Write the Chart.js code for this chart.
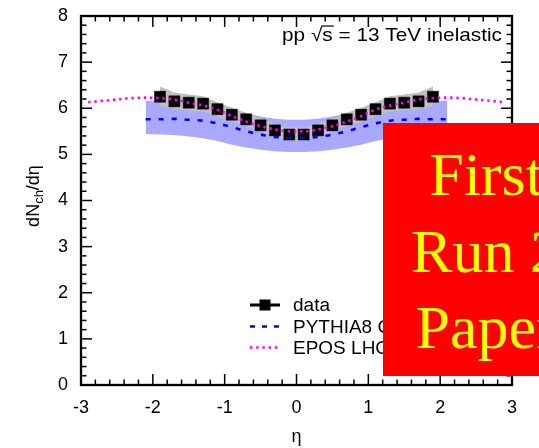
<!DOCTYPE html>
<html><head><meta charset="utf-8">
<script src="https://cdn.jsdelivr.net/npm/chart.js@4/dist/chart.umd.min.js"></script>
<style>html,body{margin:0;padding:0;background:#fff;}canvas{display:block;}</style>
</head><body>
<canvas id="c" width="539" height="448"></canvas>
<script>
// ---- data ----
const dataEta = [-1.9,-1.7,-1.5,-1.3,-1.1,-0.9,-0.7,-0.5,-0.3,-0.1,0.1,0.3,0.5,0.7,0.9,1.1,1.3,1.5,1.7,1.9];
const dataVals = [6.25,6.15,6.12,6.10,5.98,5.86,5.76,5.63,5.52,5.43,5.43,5.52,5.63,5.76,5.86,5.98,6.10,6.12,6.15,6.25];
const dataSysHi = [6.47,6.34,6.30,6.26,6.13,6.01,5.90,5.77,5.66,5.58,5.58,5.66,5.77,5.90,6.01,6.13,6.26,6.30,6.34,6.47];
const dataSysLo = [6.05,5.98,5.95,5.93,5.82,5.71,5.61,5.49,5.38,5.29,5.29,5.38,5.49,5.61,5.71,5.82,5.93,5.95,5.98,6.05];

const pythiaEta = [-2.1,-1.9,-1.7,-1.5,-1.3,-1.1,-0.9,-0.7,-0.5,-0.3,-0.1,0.1,0.3,0.5,0.7,0.9,1.1,1.3,1.5,1.7,1.9,2.1];
const pythiaVals = [5.76,5.76,5.77,5.75,5.73,5.67,5.59,5.50,5.43,5.38,5.355,5.355,5.38,5.43,5.50,5.59,5.67,5.73,5.75,5.77,5.76,5.76];
const pythiaHi = [6.16,6.16,6.16,6.14,6.12,6.06,5.98,5.89,5.82,5.77,5.75,5.75,5.77,5.82,5.89,5.98,6.06,6.12,6.14,6.16,6.16,6.16];
const pythiaLo = [5.44,5.43,5.42,5.39,5.35,5.29,5.21,5.15,5.10,5.07,5.05,5.05,5.07,5.10,5.15,5.21,5.29,5.35,5.39,5.42,5.43,5.44];

const eposEta = [-2.9,-2.7,-2.5,-2.3,-2.1,-1.9,-1.7,-1.5,-1.3,-1.1,-0.9,-0.7,-0.5,-0.3,-0.1,0.1,0.3,0.5,0.7,0.9,1.1,1.3,1.5,1.7,1.9,2.1,2.3,2.5,2.7,2.9];
const eposVals = [6.13,6.16,6.19,6.22,6.23,6.22,6.19,6.12,6.06,5.97,5.83,5.71,5.61,5.54,5.50,5.50,5.54,5.61,5.71,5.83,5.97,6.06,6.12,6.19,6.22,6.23,6.22,6.19,6.16,6.13];

const xRange = [-3, 3];
const yRange = [0, 8];
const legendLabels = ['data', 'PYTHIA8 CUETP8M1', 'EPOS LHC'];
const xTitle = '\u03b7';
const yTitleParts = ['dN', 'ch', '/d\u03b7'];
const topLabel = ['pp ', '\u221a', 's', ' = 13 TeV inelastic'];
const stampLines = ['First', 'Run 2', 'Paper'];

const pts = (xs, ys) => xs.map((x, i) => ({x, y: ys[i]}));
const SANS = '"Liberation Sans", Arial, Helvetica, sans-serif';
const SERIF = '"Liberation Serif", "Times New Roman", serif';
const COL_DATA = '#000000', COL_PY = '#0000ff', COL_EPOS = '#ff00ff';
const NONE = 'rgba(0,0,0,0)';

const decor = {
  id: 'decor',
  afterDraw(chart) {
    const {ctx, chartArea: a, scales: {x, y}} = chart;
    ctx.save();
    // ticks (inward, all four sides)
    ctx.strokeStyle = '#000'; ctx.lineWidth = 1.5;
    const seg = (x1, y1, x2, y2) => { ctx.beginPath(); ctx.moveTo(x1, y1); ctx.lineTo(x2, y2); ctx.stroke(); };
    for (let i = xRange[0] * 5; i <= xRange[1] * 5; i++) {
      const px = x.getPixelForValue(i / 5), L = (i % 5 === 0) ? 11 : 5.5;
      seg(px, a.bottom, px, a.bottom - L); seg(px, a.top, px, a.top + L);
    }
    for (let i = yRange[0] * 5; i <= yRange[1] * 5; i++) {
      const py = y.getPixelForValue(i / 5), L = (i % 5 === 0) ? 11 : 5.5;
      seg(a.left, py, a.left + L, py); seg(a.right, py, a.right - L, py);
    }
    ctx.lineWidth = 2.3;
    ctx.strokeRect(a.left, a.top, a.right - a.left, a.bottom - a.top);

    // axis titles
    ctx.fillStyle = '#000';
    ctx.textBaseline = 'alphabetic';
    ctx.textAlign = 'left';
    ctx.font = '18px ' + SANS;
    const xt = ctx.measureText(xTitle).width;
    ctx.fillText(xTitle, (a.left + a.right) / 2 - xt / 2, 442);

    ctx.save();
    ctx.translate(39, 196);
    ctx.rotate(-Math.PI / 2);
    ctx.font = '18px ' + SANS; const w0 = ctx.measureText(yTitleParts[0]).width;
    const w2 = ctx.measureText(yTitleParts[2]).width;
    ctx.font = '13px ' + SANS; const w1 = ctx.measureText(yTitleParts[1]).width;
    let cx = -(w0 + w1 + w2) / 2;
    ctx.font = '18px ' + SANS; ctx.fillText(yTitleParts[0], cx, 0); cx += w0;
    ctx.font = '13px ' + SANS; ctx.fillText(yTitleParts[1], cx, 4); cx += w1;
    ctx.font = '18px ' + SANS; ctx.fillText(yTitleParts[2], cx, 0);
    ctx.restore();

    // top-right label
    ctx.font = '19px ' + SANS;
    const ws = topLabel.map(t => ctx.measureText(t).width);
    const totalW = ws.reduce((p, c) => p + c, 0);
    const target = 220, startX = 282;
    const sc = target / totalW;
    ctx.save();
    ctx.translate(startX, 41); ctx.scale(sc, 1);
    let ox = 0;
    topLabel.forEach((t, i) => {
      ctx.fillText(t, ox, 0);
      if (i === 2) { ctx.lineWidth = 1.2; seg(ox - 1, -15, ox + ws[i] + 1, -15); }
      ox += ws[i];
    });
    ctx.restore();

    // legend
    const lx0 = 250, lx1 = 280, txX = 293, rows = [305, 326.5, 347.5];
    ctx.font = '19px ' + SANS;
    ctx.textBaseline = 'middle';
    ctx.strokeStyle = COL_DATA; ctx.lineWidth = 3; ctx.setLineDash([]);
    seg(lx0, rows[0], lx1, rows[0]);
    ctx.fillStyle = COL_DATA; ctx.fillRect((lx0 + lx1) / 2 - 5.5, rows[0] - 5.5, 11, 11);
    ctx.strokeStyle = COL_PY; ctx.lineWidth = 2.6; ctx.setLineDash([5, 7]);
    seg(lx0, rows[1], lx1, rows[1]);
    ctx.strokeStyle = COL_EPOS; ctx.lineWidth = 2.6; ctx.setLineDash([2.4, 3.8]);
    seg(lx0, rows[2], lx1, rows[2]);
    ctx.setLineDash([]);
    ctx.fillStyle = '#000';
    legendLabels.forEach((t, i) => ctx.fillText(t, txX, rows[i] + 1));

    // red stamp overlay
    ctx.fillStyle = '#ff0000';
    ctx.fillRect(383, 123, 220, 253);
    ctx.fillStyle = '#ffff00';
    ctx.font = '62px ' + SERIF;
    ctx.textAlign = 'center'; ctx.textBaseline = 'alphabetic';
    [195, 272, 348].forEach((by, i) => ctx.fillText(stampLines[i], 486, by));
    ctx.restore();
  }
};

const zeroPad = s => { s.paddingTop = 0; s.paddingBottom = 0; s.paddingLeft = 0; s.paddingRight = 0; };

new Chart(document.getElementById('c'), {
  type: 'line',
  data: {
    datasets: [
      {label: legendLabels[2], data: pts(eposEta, eposVals), borderColor: COL_EPOS, borderWidth: 2.6,
       borderDash: [2.4, 3.8], pointRadius: 0, cubicInterpolationMode: 'monotone', fill: false, order: 0},
      {label: legendLabels[1], data: pts(pythiaEta, pythiaVals), borderColor: COL_PY, borderWidth: 2.6,
       borderDash: [5, 8], pointRadius: 0, cubicInterpolationMode: 'monotone', fill: false, order: 1},
      {label: legendLabels[0], data: pts(dataEta, dataVals), showLine: false, pointStyle: 'rect',
       pointRadius: 7.8, backgroundColor: COL_DATA, borderColor: COL_DATA, pointBorderWidth: 0.5, order: 2},
      {label: 'sys hi', data: pts(dataEta, dataSysHi), borderColor: NONE, backgroundColor: '#c0c0c0',
       pointRadius: 0, fill: '+1', order: 3},
      {label: 'sys lo', data: pts(dataEta, dataSysLo), borderColor: NONE, pointRadius: 0, fill: false, order: 4},
      {label: 'py hi', data: pts(pythiaEta, pythiaHi), borderColor: NONE, backgroundColor: '#a9a9ff',
       pointRadius: 0, fill: '+1', order: 5},
      {label: 'py lo', data: pts(pythiaEta, pythiaLo), borderColor: NONE, pointRadius: 0, fill: false, order: 6}
    ]
  },
  options: {
    responsive: false, animation: false,
    layout: {padding: {top: 16, right: 27, left: 0, bottom: 0}},
    plugins: {legend: {display: false}, tooltip: {enabled: false}},
    scales: {
      x: {type: 'linear', min: xRange[0], max: xRange[1],
          afterFit: s => { s.height = 63; zeroPad(s); },
          grid: {display: false, drawTicks: false}, border: {display: false},
          ticks: {stepSize: 1, padding: 12, color: '#000', font: {size: 18, family: SANS}, maxRotation: 0}},
      y: {type: 'linear', min: yRange[0], max: yRange[1],
          afterFit: s => { s.width = 81; zeroPad(s); },
          grid: {display: false, drawTicks: false}, border: {display: false},
          ticks: {stepSize: 1, padding: 13, color: '#000', font: {size: 18, family: SANS}}}
    }
  },
  plugins: [decor]
});
</script>
</body></html>
